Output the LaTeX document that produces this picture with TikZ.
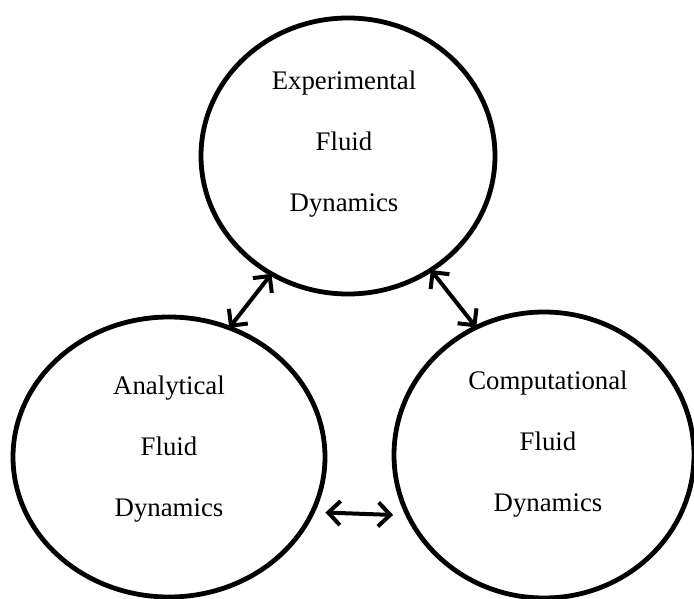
\documentclass[tikz,border=0pt]{standalone}
\usepackage{fontspec}
\setmainfont{Liberation Serif}
\usetikzlibrary{arrows.meta}
\usetikzlibrary{shapes.geometric}

\begin{document}
\begin{tikzpicture}[x=0.5pt,y=-0.5pt,
  field/.style={ellipse,draw,line width=2.4pt,inner sep=0pt,outer sep=0pt},
  label/.style={align=center,font=\fontsize{13.4}{30.5}\selectfont},
  link/.style={{Straight Barb[length=6pt,width=12pt]}-{Straight Barb[length=6pt,width=12pt]},line width=2pt}]
\useasboundingbox (0,0) rectangle (694,598);
\node[field,minimum width=147pt,minimum height=138pt] (exp) at (348,156) {};
\node[field,minimum width=156pt,minimum height=140pt] (ana) at (169,457) {};
\node[field,minimum width=150pt,minimum height=143pt] (comp) at (544,455) {};

\node[label] (exptxt) at (344,144) {Experimental\\Fluid\\Dynamics};
\node[label] (anatxt) at (169,449) {Analytical\\Fluid\\Dynamics};
\node[label] (comptxt) at (548,444) {Computational\\Fluid\\Dynamics};

\path[link] (exp.237) edge (ana.65);
\path[link] (exp.306) edge (comp.118);
\path[link,shorten <=6.5pt,shorten >=7.5pt] (ana.339) edge (comp.204);
\end{tikzpicture}
\end{document}
